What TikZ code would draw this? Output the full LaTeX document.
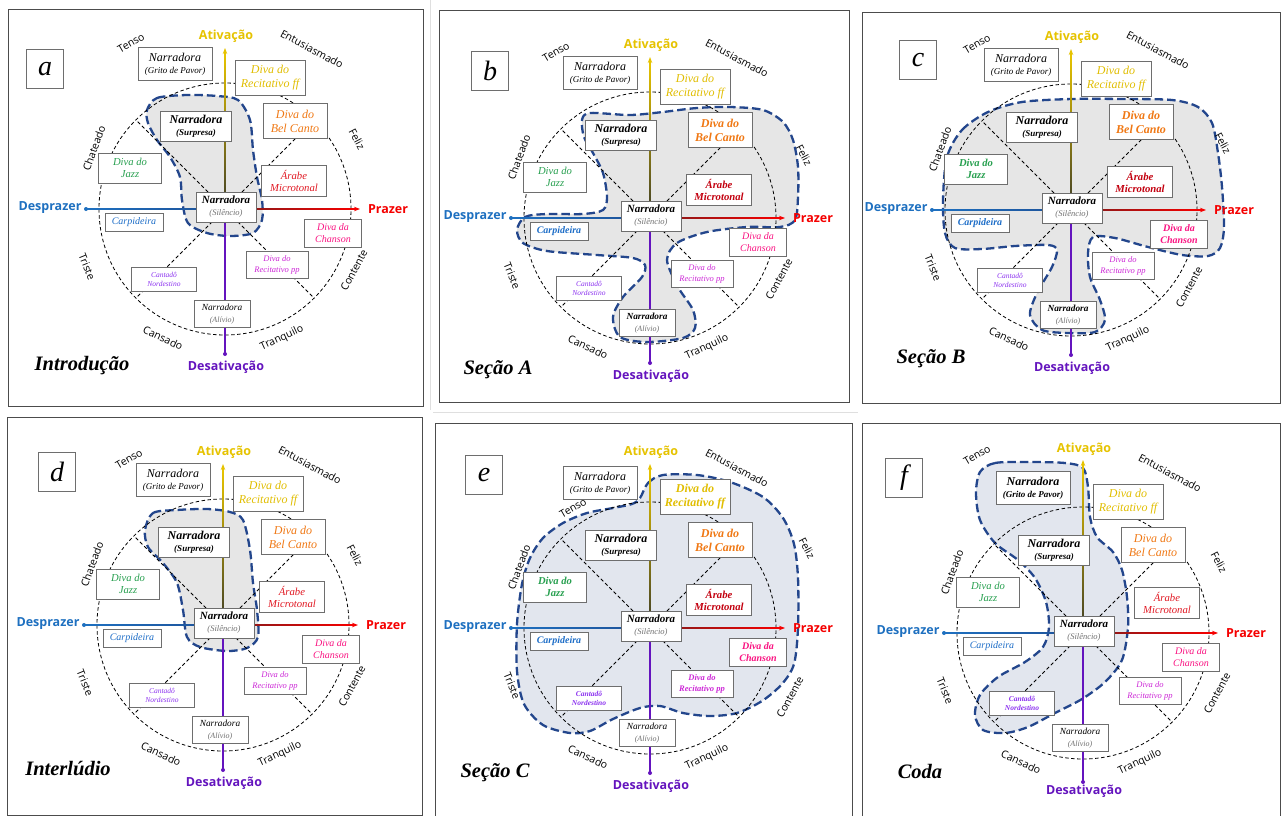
\documentclass[tikz,border=0pt]{standalone}
\usepackage{fontspec}
\setmainfont{Liberation Serif}
\newfontfamily\labfont{Open Sans}
\usetikzlibrary{arrows.meta}
\definecolor{cff}{RGB}{225,190,0}
\definecolor{cbel}{RGB}{240,120,20}
\definecolor{cjazz}{RGB}{40,160,80}
\definecolor{carabe}{RGB}{225,25,35}
\definecolor{carabeB}{RGB}{195,0,15}
\definecolor{ccarp}{RGB}{30,110,200}
\definecolor{cchan}{RGB}{250,20,130}
\definecolor{cpp}{RGB}{205,40,215}
\definecolor{ccant}{RGB}{140,50,240}
\definecolor{cdes}{RGB}{30,112,192}
\definecolor{cdesdark}{RGB}{30,80,150}
\definecolor{cpraz}{RGB}{245,0,0}
\definecolor{prazdark}{RGB}{120,30,30}
\definecolor{cdesat}{RGB}{100,20,190}
\definecolor{cativ}{RGB}{230,195,0}
\definecolor{ativdark}{RGB}{60,60,40}
\definecolor{blobline}{RGB}{35,70,140}
\definecolor{blobgray}{RGB}{230,230,230}
\definecolor{blobblue}{RGB}{226,230,238}
\definecolor{boxline}{RGB}{110,110,110}
\definecolor{subgray}{RGB}{110,110,110}
\tikzset{
 pframe/.style={draw=black!70, line width=0.9pt},
 box/.style={draw=boxline, line width=0.8pt, fill=white, align=center, inner sep=1.5pt},
 circ/.style={draw=black, line width=0.8pt, dash pattern=on 3.5pt off 2.5pt},
 blob/.style={draw=blobline, line width=2.3pt, dash pattern=on 8.5pt off 4pt, line join=round},
 mood/.style={font=\labfont\fontsize{10.5}{12}\selectfont, inner sep=0pt},
 axlab/.style={font=\labfont\bfseries\fontsize{12.5}{14}\selectfont, inner sep=0pt},
 ttl/.style={font=\bfseries\itshape\fontsize{20.5}{22}\selectfont, inner sep=0pt},
 letbox/.style={draw=boxline, line width=0.8pt, minimum width=37pt, minimum height=39pt, font=\itshape\fontsize{28}{30}\selectfont, inner sep=0pt},
 axtip/.style={line width=1.3pt, -{Stealth[length=6pt,width=4.5pt]}},
}
\newcommand\resetw{\let\wGrito\relax\let\wFF\relax\let\wBel\relax\let\wJazz\relax
 \let\wAr\relax\let\wCarp\relax\let\wChan\relax\let\wPP\relax\let\wCant\relax\let\wAl\relax}
\newcommand\arBold{\bfseries\color{carabeB}}
\def\arX{69}\def\arY{-28}\def\ppX{52}\def\ppY{56}\def\tnX{-94}\def\tnY{-166}
\def\atY{-173}\def\atT{-161}\def\btY{145}
\def\flX{132}\def\flY{-70}\def\ctX{129}\def\ctY{61}
\newcommand\panelcore[1]{%
 \coordinate (#1-O) at (0,0);
 \draw[circ] (#1-O) circle[radius=126pt];
 \foreach \a/\n in {45/ne,135/nw,225/sw,315/se}{\coordinate (#1-\n) at (\a:126pt); \draw[circ] (#1-O) -- (#1-\n);}
 \coordinate (#1-L) at (-139,0);
 \coordinate (#1-R) at (135,0);
 \coordinate (#1-Ra) at (127,0);
 \coordinate (#1-T) at (0,\atT);
 \coordinate (#1-Ta) at (0,\atT+8);
 \coordinate (#1-B) at (0,\btY);
 \shade[left color=cdes, right color=cdesdark] (-139,-0.65) rectangle (0,0.65);
 \shade[left color=prazdark, right color=cpraz] (0,-0.65) rectangle (128,0.65);
 \draw[axtip, cpraz] (#1-Ra) -- (#1-R);
 \shade[top color=cativ, middle color=cativ!75!ativdark, bottom color=ativdark] (-0.65,\atT+7) rectangle (0.65,0);
 \draw[axtip, cativ] (#1-Ta) -- (#1-T);
 \draw[cdesat, line width=1.3pt] (#1-O) -- (#1-B);
 \fill[cdes] (#1-L) circle (2pt);
 \fill[cdesat] (#1-B) circle (2pt);
 \node[box, minimum width=74pt, minimum height=33pt] (#1-grito) at (-50,-145)
   {{\itshape\fontsize{12}{13}\selectfont\wGrito Narradora}\\{\itshape\fontsize{9}{10}\selectfont\wGrito (Grito de Pavor)}};
 \node[box, text=cff, font=\itshape\fontsize{12}{14}\selectfont, minimum width=70pt, minimum height=35pt] (#1-ff) at (45,-131)
   {\wFF Diva do\\\wFF Recitativo ff};
 \node[box, minimum width=71pt, minimum height=30pt] (#1-sur) at (-29,-83)
   {{\bfseries\itshape\fontsize{12}{13}\selectfont Narradora}\\{\bfseries\itshape\fontsize{9}{10}\selectfont (Surpresa)}};
 \node[box, text=cbel, font=\itshape\fontsize{12}{14}\selectfont, minimum width=64pt, minimum height=35pt] (#1-bel) at (70,-88)
   {\wBel Diva do\\\wBel Bel Canto};
 \node[box, text=cjazz, font=\itshape\fontsize{10.6}{12.5}\selectfont, minimum width=63pt, minimum height=30pt] (#1-jazz) at (-95,-41)
   {\wJazz Diva do\\\wJazz Jazz};
 \node[box, text=carabe, font=\itshape\fontsize{10.7}{12.8}\selectfont, minimum width=65pt, minimum height=31pt] (#1-ar) at (\arX,\arY)
   {\wAr Árabe\\\wAr Microtonal};
 \node[box, minimum width=60pt, minimum height=30pt] (#1-sil) at (1,-2)
   {{\bfseries\itshape\fontsize{11}{12}\selectfont Narradora}\\{\color{subgray}\itshape\fontsize{8.5}{9.5}\selectfont (Silêncio)}};
 \node[box, text=ccarp, font=\itshape\fontsize{10}{12}\selectfont, minimum width=58pt, minimum height=18pt] (#1-carp) at (-91,13)
   {\wCarp Carpideira};
 \node[box, text=cchan, font=\itshape\fontsize{10}{12}\selectfont, minimum width=57pt, minimum height=28pt] (#1-chan) at (108,24)
   {\wChan Diva da\\\wChan Chanson};
 \node[box, text=cpp, font=\itshape\fontsize{8.5}{10.5}\selectfont, minimum width=62pt, minimum height=27pt] (#1-pp) at (\ppX,\ppY)
   {\wPP Diva do\\\wPP Recitativo pp};
 \node[box, text=ccant, font=\itshape\fontsize{7.5}{9}\selectfont, minimum width=65pt, minimum height=24pt] (#1-cant) at (-61,70)
   {\wCant Cantadô\\\wCant Nordestino};
 \node[box, minimum width=56pt, minimum height=27pt] (#1-al) at (-3,105)
   {{\itshape\fontsize{9.3}{10.5}\selectfont\wAl Narradora}\\{\color{subgray}\itshape\fontsize{8}{9}\selectfont (Alívio)}};
 \node[mood, rotate=30] (#1-tenso) at (\tnX,\tnY) {Tenso};
 \node[mood, rotate=-28] (#1-entu) at (87,-160) {Entusiasmado};
 \node[mood, rotate=-62] (#1-feliz) at (\flX,\flY) {Feliz};
 \node[mood, rotate=70] (#1-chat) at (-131,-61) {Chateado};
 \node[mood, rotate=-68] (#1-triste) at (-138,58) {Triste};
 \node[mood, rotate=62] (#1-cont) at (\ctX,\ctY) {Contente};
 \node[mood, rotate=-25] (#1-cans) at (-62,129) {Cansado};
 \node[mood, rotate=25] (#1-tranq) at (57,129) {Tranquilo};
 \node[axlab, text=cativ] (#1-ativ) at (1,\atY) {Ativação};
 \node[axlab, text=cdesat] (#1-desat) at (1,158) {Desativação};
 \node[axlab, text=cdes] (#1-despr) at (-175,-1) {Desprazer};
 \node[axlab, text=cpraz] (#1-praz) at (163,0) {Prazer};
}
\begin{document}
\begin{tikzpicture}[x=1pt,y=-1pt]
\useasboundingbox[fill=white] (0,0) rectangle (1282,816);
\draw[gray!25, line width=0.8pt] (430,0) -- (430,410);
\draw[gray!25, line width=0.8pt] (433,412) -- (858,412);
% ---------- a
\draw[pframe] (8,9) rectangle (423,406);
\begin{scope}[shift={(225,209)}]
 \resetw
 \path[blob, fill=blobgray] plot[smooth cycle] coordinates {(-78,-99) (-68,-111) (-38,-114) (-8,-113) (13,-109) (25,-89) (28,-59) (32,-32) (37,-9) (37,11) (28,24) (5,27) (-18,24) (-37,14) (-43,-9) (-45,-32) (-55,-52) (-68,-69) (-77,-86)};
 \panelcore{a}
 \node[letbox] (a-let) at (-180,-140) {a};
 \node[ttl] (a-ttl) at (-143,157) {Introdução};
\end{scope}
% ---------- b
\draw[pframe] (439,10) rectangle (849,402);
\begin{scope}[shift={(650,218)}]
 \resetw\let\wBel\bfseries\let\wAr\arBold\let\wCarp\bfseries\let\wAl\bfseries
 \def\flX{154}\def\flY{-63}
 \path[blob, fill=blobgray] plot[smooth cycle] coordinates {(-68,-98) (-60,-105) (-20,-103) (13,-106) (47,-110) (80,-111) (113,-108) (133,-96) (143,-78) (148,-51) (148,-21) (145,2) (130,9) (97,9) (57,14) (27,25) (17,42) (28,69) (43,92) (45,110) (33,120) (-3,124) (-30,119) (-37,99) (-27,79) (-8,59) (-5,47) (-17,40) (-53,37) (-103,33) (-127,25) (-133,12) (-125,-1) (-103,-4) (-67,-4) (-47,-8) (-43,-21) (-47,-45) (-57,-65) (-66,-81)};
 \panelcore{b}
 \node[letbox] (b-let) at (-160,-147) {b};
 \node[ttl] (b-ttl) at (-152,152) {Seção A};
\end{scope}
% ---------- c
\draw[pframe] (862,12) rectangle (1280,403);
\begin{scope}[shift={(1071,210)}]
 \resetw\let\wBel\bfseries\let\wJazz\bfseries\let\wAr\arBold\let\wCarp\bfseries\let\wChan\bfseries\let\wAl\bfseries
 \def\flX{152}\def\flY{-67}\def\ctX{118}\def\ctY{77}
 \path[blob, fill=blobgray] plot[smooth cycle] coordinates {(-124,-53) (-109,-80) (-83,-98) (-49,-108) (1,-111) (51,-111) (101,-110) (127,-103) (141,-87) (147,-57) (151,-23) (153,17) (149,38) (137,46) (111,45) (77,37) (44,28) (22,27) (17,43) (19,67) (29,90) (34,110) (24,122) (-3,123) (-29,120) (-41,105) (-34,83) (-19,57) (-14,40) (-23,35) (-56,36) (-89,39) (-116,38) (-126,23) (-128,-10)};
 \panelcore{c}
 \node[letbox] (c-let) at (-153,-150) {c};
 \node[ttl] (c-ttl) at (-140,149) {Seção B};
\end{scope}
% ---------- d
\draw[pframe] (7,417) rectangle (422,815);
\begin{scope}[shift={(223,625)}]
 \resetw
 \path[blob, fill=blobgray] plot[smooth cycle] coordinates {(-78,-95) (-70,-112) (-46,-115) (-16,-116) (7,-113) (20,-105) (27,-75) (30,-42) (34,-15) (35,12) (24,23) (4,26) (-23,22) (-36,12) (-40,-15) (-46,-42) (-60,-62) (-75,-78)};
 \panelcore{d}
 \node[letbox] (d-let) at (-166,-153) {d};
 \node[ttl] (d-ttl) at (-155,143) {Interlúdio};
\end{scope}
% ---------- e
\draw[pframe] (435,825) -- (435,423) -- (852,423) -- (852,825);
\begin{scope}[shift={(650,628)}]
 \resetw\let\wFF\bfseries\let\wBel\bfseries\let\wJazz\bfseries\let\wAr\arBold\let\wCarp\bfseries\let\wChan\bfseries\let\wPP\bfseries\let\wCant\bfseries
 \def\tnX{-77}\def\tnY{-120}\def\atY{-176}\def\atT{-164}
 \def\flX{157}\def\flY{-80}\def\ctX{140}\def\ctY{69}
 \path[blob, fill=blobblue] plot[smooth cycle] coordinates {(-10,-130) (-2,-145) (13,-153) (47,-153) (80,-146) (113,-131) (133,-110) (144,-84) (148,-50) (148,0) (144,36) (132,56) (112,73) (87,85) (60,88) (33,85) (10,78) (-10,80) (-37,91) (-60,103) (-80,105) (-107,97) (-126,76) (-133,43) (-133,-4) (-128,-44) (-120,-70) (-107,-90) (-87,-105) (-63,-115) (-37,-120) (-18,-124)};
 \panelcore{e}
 \node[letbox] (e-let) at (-166,-153) {e};
 \node[ttl] (e-ttl) at (-155,145) {Seção C};
\end{scope}
% ---------- f
\draw[pframe] (862,825) -- (862,423) -- (1280,423) -- (1280,825);
\begin{scope}[shift={(1083,633)}]
 \resetw\let\wGrito\bfseries\let\wCant\bfseries
 \def\arX{84}\def\arY{-30}\def\ppX{67}\def\ppY{58}
 \def\tnX{-106}\def\tnY{-178}\def\atY{-184}\def\atT{-173}\def\btY{149}
 \def\flX{136}\def\flY{-71}\def\ctX{134}\def\ctY{60}
 \path[blob, fill=blobblue] plot[smooth cycle] coordinates {(-103,-161) (-88,-170) (-55,-171) (-18,-170) (0,-165) (5,-146) (7,-116) (14,-96) (30,-81) (39,-63) (44,-36) (45,-6) (39,27) (22,49) (-1,66) (-28,80) (-55,94) (-78,100) (-100,97) (-108,82) (-103,62) (-85,44) (-58,29) (-40,14) (-34,-6) (-37,-31) (-48,-55) (-65,-73) (-88,-90) (-103,-113) (-107,-140)};
 \panelcore{f}
 \node[letbox] (f-let) at (-179,-155) {f};
 \node[ttl] (f-ttl) at (-163,138) {Coda};
\end{scope}
\end{tikzpicture}
\end{document}
